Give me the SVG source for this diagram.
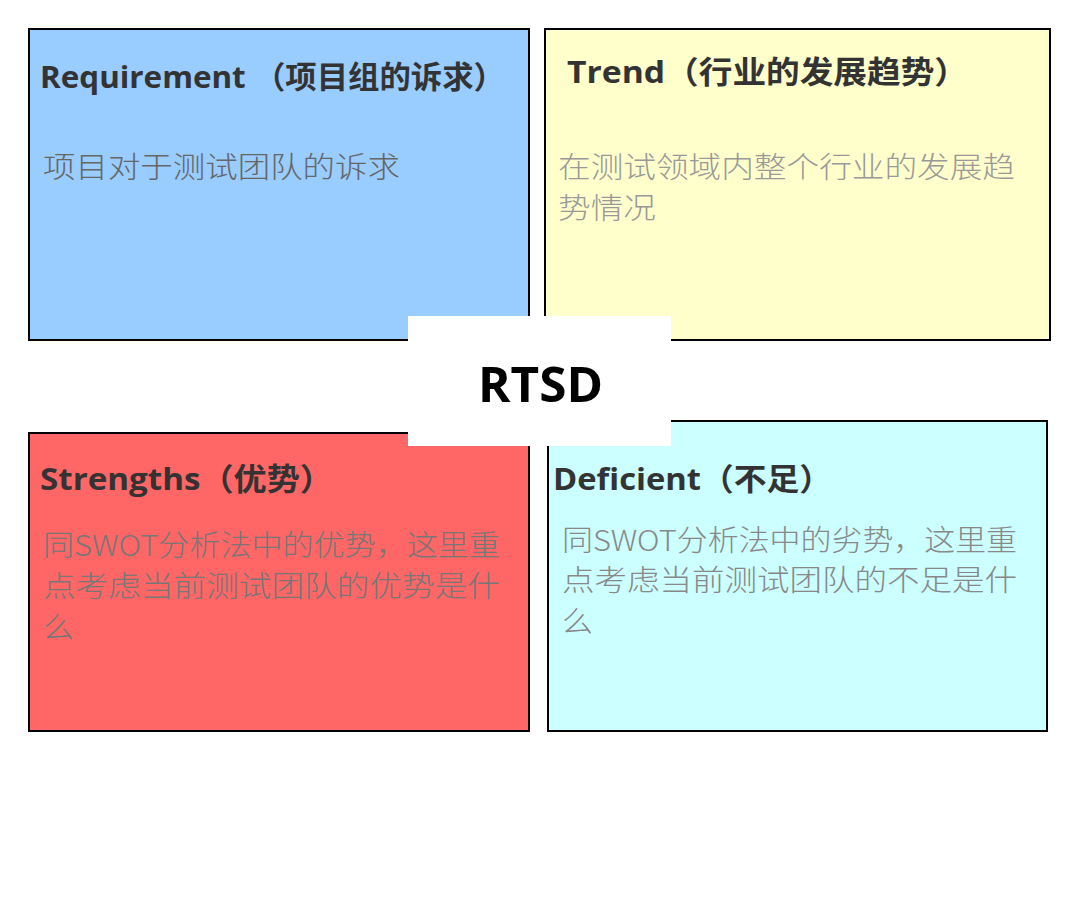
<svg xmlns="http://www.w3.org/2000/svg" width="1080" height="907" viewBox="0 0 1080 907">
<style>
.box{stroke:#000;stroke-width:2}
.title{font-family:"Open Sans","Noto Sans CJK SC",sans-serif;font-weight:bold;font-size:31px;fill:#333}
.body{font-family:"Noto Sans CJK SC",sans-serif;font-size:29px;font-weight:300}
</style>
<rect width="1080" height="907" fill="#fff"/>
<g id="requirement">
<rect class="box" x="29" y="29" width="500" height="311" fill="#99CCFF"/>
<text class="title" x="40" y="88" textLength="465" lengthAdjust="spacingAndGlyphs">Requirement （项目组的诉求）</text>
<text class="body" x="43" y="178" fill="#666" textLength="357" lengthAdjust="spacingAndGlyphs">项目对于测试团队的诉求</text>
</g>
<g id="trend">
<rect class="box" x="545" y="29" width="505" height="311" fill="#FFFFCC"/>
<text class="title" x="567" y="83" textLength="401" lengthAdjust="spacingAndGlyphs">Trend（行业的发展趋势）</text>
<text class="body" x="558" y="178" fill="#999" textLength="457" lengthAdjust="spacingAndGlyphs">在测试领域内整个行业的发展趋</text>
<text class="body" x="558" y="219" fill="#999" textLength="98" lengthAdjust="spacingAndGlyphs">势情况</text>
</g>
<g id="strengths">
<rect class="box" x="29" y="433" width="500" height="298" fill="#FF6666"/>
<text class="title" x="40" y="490" textLength="293" lengthAdjust="spacingAndGlyphs">Strengths（优势）</text>
<text class="body" x="43" y="556" fill="#777" textLength="457" lengthAdjust="spacingAndGlyphs">同SWOT分析法中的优势，这里重</text>
<text class="body" x="43" y="597" fill="#777" textLength="457" lengthAdjust="spacingAndGlyphs">点考虑当前测试团队的优势是什</text>
<text class="body" x="43" y="638" fill="#777" textLength="31" lengthAdjust="spacingAndGlyphs">么</text>
</g>
<g id="deficient">
<rect class="box" x="548" y="421" width="499" height="310" fill="#CCFFFF"/>
<text class="title" x="553" y="490" textLength="279" lengthAdjust="spacingAndGlyphs">Deficient（不足）</text>
<text class="body" x="562" y="551" fill="#888" textLength="455" lengthAdjust="spacingAndGlyphs">同SWOT分析法中的劣势，这里重</text>
<text class="body" x="562" y="591" fill="#888" textLength="455" lengthAdjust="spacingAndGlyphs">点考虑当前测试团队的不足是什</text>
<text class="body" x="562" y="632" fill="#888" textLength="31" lengthAdjust="spacingAndGlyphs">么</text>
</g>
<g id="rtsd">
<rect x="408" y="316" width="263" height="130" fill="#fff"/>
<text x="478" y="402" font-family="Open Sans, Noto Sans CJK SC, sans-serif" font-weight="bold" font-size="48" fill="#000" textLength="125" lengthAdjust="spacingAndGlyphs">RTSD</text>
</g>
<g id="connectors"/>
</svg>
